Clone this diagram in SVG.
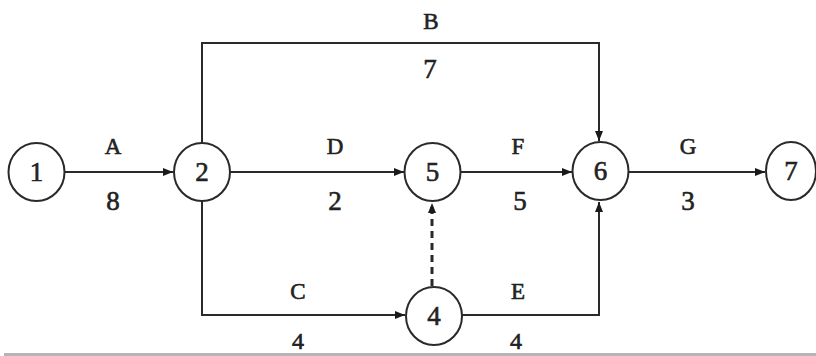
<svg xmlns="http://www.w3.org/2000/svg" width="816" height="356" viewBox="0 0 816 356">
<style>
.ln{fill:none;stroke:#2a2a2a;stroke-width:2}
.dash{fill:none;stroke:#2a2a2a;stroke-width:3;stroke-dasharray:7 5}
.nd{fill:#fff;stroke:#2a2a2a;stroke-width:2}
.t{font-family:"Liberation Serif","Times New Roman",serif;fill:#222;stroke:#222;stroke-width:0.6;text-anchor:middle}
.lt{font-size:23px}
.dg{font-size:27px}
.nt{font-size:27px}
</style>
<defs>
<marker id="ah" viewBox="0 0 10 8" refX="10" refY="4" markerWidth="10" markerHeight="8" markerUnits="userSpaceOnUse" orient="auto">
<path d="M0,0 L10,4 L0,8 Z" fill="#1a1a1a"/>
</marker>
</defs>
<rect width="816" height="356" fill="#fff"/>
<line x1="4" y1="354.5" x2="816" y2="354.5" stroke="#b5b5b5" stroke-width="3"/>
<g id="connectors">
<line class="ln" x1="64" y1="172" x2="173" y2="172" marker-end="url(#ah)"/>
<polyline class="ln" points="202,143 202,43 599,43 599,141" marker-end="url(#ah)"/>
<line class="ln" x1="230" y1="172" x2="404" y2="172" marker-end="url(#ah)"/>
<line class="ln" x1="461" y1="172" x2="572" y2="172" marker-end="url(#ah)"/>
<line class="ln" x1="628" y1="172" x2="765" y2="172" marker-end="url(#ah)"/>
<polyline class="ln" points="202,201 202,315 405,315" marker-end="url(#ah)"/>
<polyline class="ln" points="462,315 599,315 599,202" marker-end="url(#ah)"/>
<line class="dash" x1="432" y1="286" x2="432" y2="203" marker-end="url(#ah)"/>
</g>
<g id="labels">
<text class="t lt" x="113" y="154">A</text>
<text class="t dg" x="113" y="210">8</text>
<text class="t lt" x="431" y="29">B</text>
<text class="t dg" x="430" y="78">7</text>
<text class="t lt" x="335" y="154">D</text>
<text class="t dg" x="335" y="210">2</text>
<text class="t lt" x="518" y="154">F</text>
<text class="t dg" x="520" y="210">5</text>
<text class="t lt" x="688" y="154">G</text>
<text class="t dg" x="688" y="210">3</text>
<text class="t lt" x="298" y="299">C</text>
<text class="t dg" x="298" y="349" style="font-size:24px">4</text>
<text class="t lt" x="518" y="299">E</text>
<text class="t dg" x="516" y="349" style="font-size:24px">4</text>
</g>
<g id="n1"><ellipse class="nd" cx="36.5" cy="172" rx="28" ry="29"/><text class="t nt" x="36.5" y="181">1</text></g>
<g id="n2"><ellipse class="nd" cx="202" cy="172" rx="28" ry="29"/><text class="t nt" x="202" y="181">2</text></g>
<g id="n5"><ellipse class="nd" cx="432.5" cy="172" rx="28" ry="29"/><text class="t nt" x="432.5" y="181">5</text></g>
<g id="n6"><ellipse class="nd" cx="600.5" cy="171" rx="28" ry="29"/><text class="t nt" x="600.5" y="180">6</text></g>
<g id="n7"><ellipse class="nd" cx="791" cy="171" rx="25" ry="29"/><text class="t nt" x="791" y="180">7</text></g>
<g id="n4"><ellipse class="nd" cx="434" cy="316" rx="28" ry="29"/><text class="t nt" x="434" y="325">4</text></g>
</svg>
